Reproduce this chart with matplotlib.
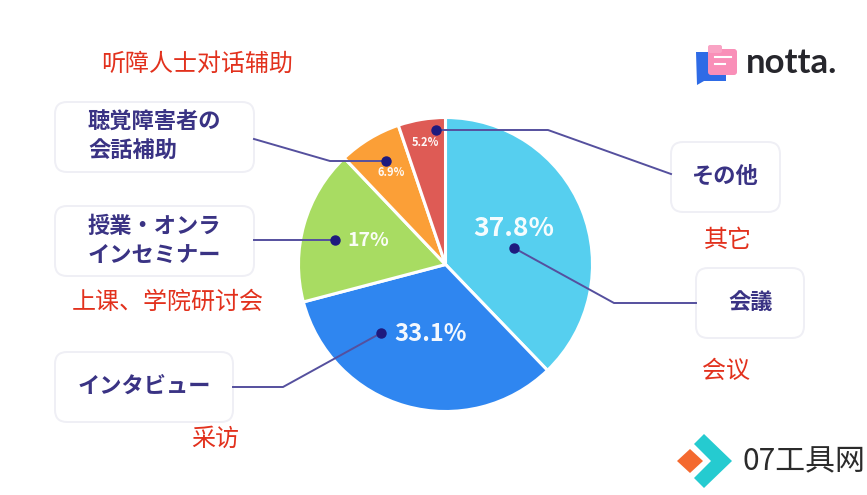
import matplotlib
matplotlib.use('Agg')  # non-interactive backend
import matplotlib.pyplot as plt
from matplotlib.patches import FancyBboxPatch, Polygon

plt.rcParams['font.family'] = ['Noto Sans CJK JP', 'DejaVu Sans']

# chart data
categories = ['会議', 'インタビュー', '授業・オンラインセミナー', '聴覚障害者の会話補助', 'その他']
shares = [37.8, 33.1, 17, 6.9, 5.2]
share_labels = ['37.8%', '33.1%', '17%', '6.9%', '5.2%']
colors = ['#56CFEF', '#2F86F0', '#A8DC62', '#FB9F37', '#DE5B55']

W, H = 867, 495
NAVY = '#3A3384'
LINE = '#55509E'
RED = '#E2311D'

fig = plt.figure(figsize=(W / 100, H / 100), dpi=100)

# pie gets its own axes, placed in pixels
cx, cy, r = 445.5, 264.5, 147
pie_ax = fig.add_axes([(cx - r) / W, 1 - (cy + r) / H, 2 * r / W, 2 * r / H])
pie_ax.pie(shares, colors=colors, startangle=90, counterclock=False, radius=1,
           wedgeprops={'edgecolor': 'white', 'linewidth': 2.2})
pie_ax.set_xlim(-1, 1)
pie_ax.set_ylim(-1, 1)

# overlay in image pixels for boxes, leaders and notes
ax = fig.add_axes([0, 0, 1, 1], zorder=5)
ax.set_xlim(0, W)
ax.set_ylim(H, 0)
ax.axis('off')
ax.patch.set_alpha(0)


def label_box(x0, y0, x1, y1, text, tx=None):
    box = FancyBboxPatch((x0 + 12, y0 + 12), x1 - x0 - 24, y1 - y0 - 24,
                         boxstyle='round,pad=12,rounding_size=12',
                         fc='white', ec='#EFEFF5', lw=1.4)
    ax.add_patch(box)
    if '\n' in text:
        ax.text(tx, (y0 + y1) / 2, text, color=NAVY, fontsize=16, fontweight='bold',
                ha='left', va='center', linespacing=1.32)
    else:
        ax.text(tx if tx else (x0 + x1) / 2, (y0 + y1) / 2 - 1, text, color=NAVY, fontsize=16,
                fontweight='bold', ha='center', va='center')


def leader(xs, ys):
    ax.plot(xs, ys, color=LINE, lw=1.4, solid_joinstyle='miter')
    ax.plot(xs[0], ys[0], 'o', color='#1E1A7E', ms=6.5)


leader([436, 548, 671], [130, 130, 174])
leader([514, 614, 696], [248, 303, 303])
leader([381, 283, 233], [333, 387, 387])
leader([335, 254], [240, 240])
leader([386, 330, 254], [161, 161, 139])

label_box(55, 102, 254, 172, '聴覚障害者の\n会話補助', tx=88)
label_box(55, 206, 254, 276, '授業・オンラ\nインセミナー', tx=88)
label_box(55, 352, 233, 422, 'インタビュー', tx=144.5)
label_box(671, 142, 780, 212, 'その他', tx=724.5)
label_box(696, 268, 804, 338, '会議', tx=751)

# percentage labels on the slices
pct_pos = [(514, 229, 19), (431, 334, 17), (368, 241, 14), (391, 173, 8), (425, 142, 8)]
for lab, (x, y, fs) in zip(share_labels, pct_pos):
    ax.text(x, y, lab, color='white', fontsize=fs, fontweight='bold', ha='center', va='center',
            alpha=0.95)

# red translated notes
notes = [('听障人士对话辅助', 197, 64), ('上课、学院研讨会', 168, 302), ('采访', 215, 439),
         ('其它', 728, 240), ('会议', 726, 371)]
for txt, x, y in notes:
    ax.text(x, y, txt, color=RED, fontsize=17.3, ha='center', va='center',
            family=['Noto Sans CJK SC', 'DejaVu Sans'])

# notta logo
ax.add_patch(Polygon([(696, 52), (726, 52), (726, 81), (704, 81), (697, 85)], fc='#2E6BE6', lw=0))
ax.add_patch(FancyBboxPatch((709, 50), 27, 24, boxstyle='round,pad=1,rounding_size=3',
                            fc='#F98FB8', lw=0))
ax.add_patch(FancyBboxPatch((709, 46), 12, 6, boxstyle='round,pad=1,rounding_size=2',
                            fc='#F9A3C4', lw=0))
ax.plot([715, 731], [57, 57], color='white', lw=1.5)
ax.plot([715, 725], [64, 64], color='white', lw=1.5)
ax.text(746, 73, 'notta.', color='#26262C', fontsize=25, fontweight='bold', ha='left',
        va='baseline', family='Lato')

# 07 site mark
ax.add_patch(Polygon([(677, 461), (690, 449), (703, 461), (690, 473)], fc='#F4692F', lw=0))
ax.add_patch(Polygon([(694, 444), (704, 434), (732, 461), (704, 488), (694, 478), (711, 461)],
                     fc='#25CBD0', lw=0))
ax.text(742, 462, '07工具网', color='#2B2B2B', fontsize=21.5, ha='left', va='center',
        family=['Noto Sans CJK SC', 'DejaVu Sans'])

fig.savefig('out.png', dpi=100, facecolor='white')
